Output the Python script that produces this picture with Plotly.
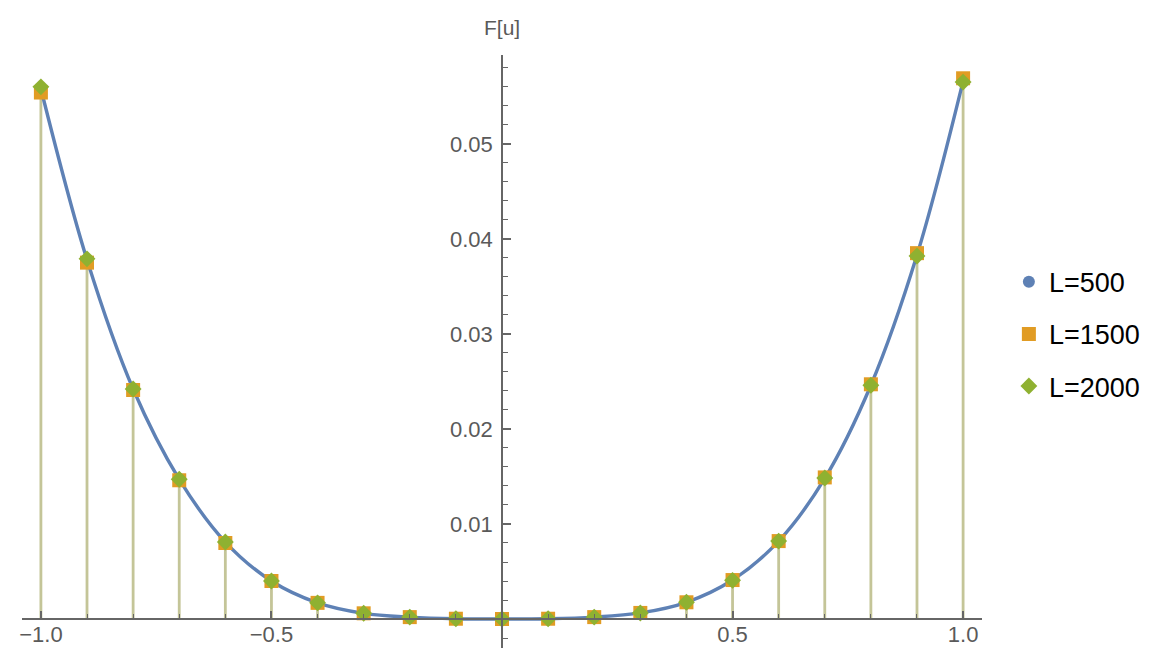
import plotly.graph_objects as go

# ---------------- data ----------------
u_vals = [-1.0, -0.9, -0.8, -0.7, -0.6, -0.5, -0.4, -0.3, -0.2, -0.1, 0.0,
          0.1, 0.2, 0.3, 0.4, 0.5, 0.6, 0.7, 0.8, 0.9, 1.0]
F_L500 = [0.0558, 0.0378, 0.0242, 0.0147, 0.0081, 0.0040, 0.0017, 0.0006, 0.0002, 0.00003, 0.0,
          0.00003, 0.0002, 0.00064, 0.00176, 0.0041, 0.0082, 0.0148, 0.0246, 0.0383, 0.0566]
F_L1500 = [0.0554, 0.0375, 0.0241, 0.0146, 0.0080, 0.0040, 0.0017, 0.0006, 0.0002, 0.00003, 0.0,
           0.00003, 0.0002, 0.00064, 0.00176, 0.0041, 0.0082, 0.0149, 0.0247, 0.0385, 0.0569]
F_L2000 = [0.0560, 0.0379, 0.0242, 0.0147, 0.0081, 0.0040, 0.0017, 0.0006, 0.0002, 0.00003, 0.0,
           0.00003, 0.0002, 0.00064, 0.00176, 0.00407, 0.0082, 0.01484, 0.0246, 0.0382, 0.0565]
series_names = ["L=500", "L=1500", "L=2000"]
x_tick_vals = [-1.0, -0.5, 0.5, 1.0]
x_tick_text = ["\u22121.0", "\u22120.5", "0.5", "1.0"]
y_tick_vals = [0.01, 0.02, 0.03, 0.04, 0.05]
y_tick_text = ["0.01", "0.02", "0.03", "0.04", "0.05"]

# ---------------- style ----------------
C_BLUE = "#5E81B5"
C_ORANGE = "#E19C24"
C_GREEN = "#8FB131"
C_STEM = "#C4C598"
C_AXIS = "#666666"
C_TICKLBL = "#5a5a5a"
FONT = "Liberation Sans, Arial, sans-serif"

XR = [-1.041, 1.041]
YR = [-0.00305, 0.05935]

fig = go.Figure()

# stems (drop lines to the axis)
stem_x, stem_y = [], []
for xv, a, b, c in zip(u_vals, F_L500, F_L1500, F_L2000):
    stem_x += [xv, xv, None]
    stem_y += [0.0, max(a, b, c), None]
fig.add_trace(go.Scatter(x=stem_x, y=stem_y, mode="lines",
                         line=dict(color=C_STEM, width=2.8),
                         showlegend=False, hoverinfo="skip"))

# smooth curve
fig.add_trace(go.Scatter(x=u_vals, y=F_L500, mode="lines",
                         line=dict(color=C_BLUE, width=3.4, shape="spline", smoothing=1.0),
                         showlegend=False, hoverinfo="skip"))

fig.add_trace(go.Scatter(x=u_vals, y=F_L500, mode="markers", name=series_names[0],
                         legendgroup="a",
                         marker=dict(symbol="circle", size=12, color=C_BLUE)))
fig.add_trace(go.Scatter(x=u_vals, y=F_L1500, mode="markers", name=series_names[1],
                         legendgroup="b",
                         marker=dict(symbol="square", size=14, color=C_ORANGE)))
fig.add_trace(go.Scatter(x=u_vals, y=F_L2000, mode="markers", name=series_names[2],
                         legendgroup="c",
                         marker=dict(symbol="diamond", size=13, color=C_GREEN)))

x_axis_pos = (0 - YR[0]) / (YR[1] - YR[0])

fig.update_layout(
    width=1156, height=648,
    paper_bgcolor="white", plot_bgcolor="white",
    margin=dict(l=14, r=182, t=47, b=8, autoexpand=False),
    font=dict(family=FONT, color=C_TICKLBL),
    xaxis=dict(range=XR, anchor="free", position=x_axis_pos,
               showgrid=False, zeroline=False, showline=True,
               linecolor=C_AXIS, linewidth=1.5,
               tickmode="array", tickvals=x_tick_vals, ticktext=x_tick_text,
               ticks="inside", ticklen=7, tickwidth=1.5, tickcolor=C_AXIS,
               tickfont=dict(size=22, color=C_TICKLBL, family=FONT),
               ticklabelstandoff=-4,
               minor=dict(tickmode="linear", tick0=0, dtick=0.1, ticks="inside",
                          ticklen=4, tickwidth=1.2, tickcolor=C_AXIS, showgrid=False),
               automargin=False),
    yaxis=dict(range=YR, anchor="free", position=0.5,
               showgrid=False, zeroline=False, showline=True,
               linecolor=C_AXIS, linewidth=1.5,
               tickmode="array", tickvals=y_tick_vals, ticktext=y_tick_text,
               ticks="inside", ticklen=8, tickwidth=1.5, tickcolor=C_AXIS,
               tickfont=dict(size=22, color=C_TICKLBL, family=FONT),
               ticklabelstandoff=4,
               minor=dict(tickmode="linear", tick0=0, dtick=0.002, ticks="inside",
                          ticklen=5, tickwidth=1.2, tickcolor=C_AXIS, showgrid=False),
               automargin=False),
    legend=dict(x=1.028, y=0.658, xanchor="left", yanchor="top",
                font=dict(size=27, color="black", family=FONT),
                bgcolor="rgba(0,0,0,0)", tracegroupgap=14, itemwidth=30),
    showlegend=True,
)

fig.add_annotation(x=0, xref="x", y=1 + (55 - 28) / 593.0, yref="paper",
                   yanchor="middle", text="F[u]", showarrow=False,
                   font=dict(size=21, color=C_TICKLBL, family=FONT))

fig.write_html("out.html")
